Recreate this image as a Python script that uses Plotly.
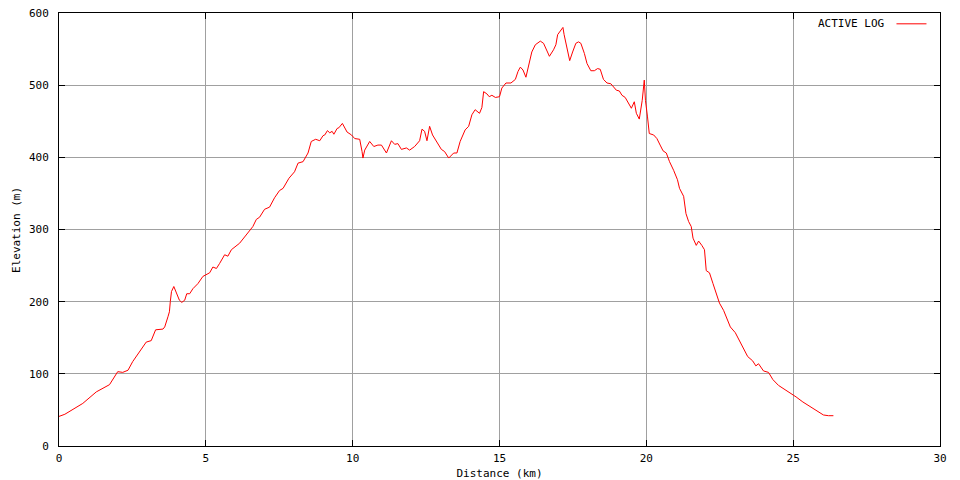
import plotly.graph_objects as go

distance_km = [0, 0.2, 0.81, 1.27, 1.72, 2.0, 2.17, 2.35, 2.51, 2.8, 2.97, 3.14, 3.29, 3.54, 3.6, 3.71,
               3.76, 3.79, 3.83, 3.91, 3.99, 4.1, 4.18, 4.28, 4.35, 4.45, 4.56, 4.73, 4.9, 5.13, 5.24,
               5.36, 5.47, 5.64, 5.75, 5.87, 6.15, 6.35, 6.49, 6.6, 6.72, 6.83, 7.0, 7.17, 7.34, 7.51,
               7.63, 7.83, 8.02, 8.14, 8.31, 8.48, 8.59, 8.74, 8.88, 8.99, 9.05, 9.14, 9.22, 9.3, 9.36,
               9.47, 9.53, 9.65, 9.81, 9.96, 10.07, 10.24, 10.32, 10.35, 10.41, 10.58, 10.72, 10.86,
               10.98, 11.15, 11.32, 11.43, 11.54, 11.66, 11.83, 11.94, 12.11, 12.28, 12.36, 12.45,
               12.53, 12.62, 12.72, 12.85, 13.02, 13.13, 13.27, 13.44, 13.55, 13.66, 13.83, 13.95,
               14.06, 14.17, 14.32, 14.4, 14.46, 14.57, 14.65, 14.74, 14.86, 15.0, 15.08, 15.22, 15.39,
               15.54, 15.63, 15.71, 15.8, 15.9, 15.99, 16.1, 16.22, 16.39, 16.5, 16.59, 16.7, 16.84,
               16.92, 16.98, 17.07, 17.16, 17.2, 17.3, 17.39, 17.49, 17.6, 17.69, 17.77, 17.89, 17.98,
               18.11, 18.23, 18.34, 18.43, 18.54, 18.66, 18.79, 18.88, 18.98, 19.08, 19.17, 19.28,
               19.37, 19.49, 19.59, 19.66, 19.76, 19.82, 19.86, 19.93, 19.97, 20.04, 20.1, 20.25,
               20.36, 20.47, 20.57, 20.68, 20.79, 20.93, 21.06, 21.13, 21.27, 21.35, 21.44, 21.53,
               21.59, 21.7, 21.78, 21.89, 21.98, 22.04, 22.15, 22.27, 22.38, 22.49, 22.63, 22.74,
               22.86, 23.03, 23.14, 23.29, 23.45, 23.62, 23.73, 23.82, 23.99, 24.16, 24.31, 24.5,
               24.7, 24.9, 25.1, 25.33, 25.56, 25.81, 26.03, 26.2, 26.37]

elevation_m = [41, 44, 59, 75, 85, 103, 102, 105, 117, 135, 144, 146, 161, 162, 165, 179,
               186, 200, 214, 221, 214, 202, 199, 202, 211, 211, 218, 225, 235, 240, 248,
               246, 253, 265, 263, 272, 281, 291, 297, 304, 314, 317, 328, 331, 344, 354,
               357, 371, 380, 392, 394, 406, 422, 425, 423, 430, 431, 437, 434, 436, 432,
               440, 441, 447, 435, 431, 426, 425, 408, 399, 410, 422, 415, 417,
               417, 406, 423, 418, 419, 411, 413, 410, 415, 423, 439, 436,
               423, 443, 431, 423, 411, 408, 399, 406, 406, 422, 438, 443,
               459, 466, 461, 469, 491, 488, 484, 486, 483, 484, 496, 503, 503,
               508, 519, 525, 521, 511, 526, 546, 556, 561, 558, 550, 540, 549,
               556, 570, 576, 580, 570, 549, 534, 546, 558, 560, 558, 544, 530,
               520, 520, 523, 522, 508, 503, 502, 498, 493, 492, 486, 483,
               477, 468, 477, 461, 453, 468, 479, 507, 479, 456, 433, 431,
               426, 417, 409, 406, 394, 382, 369, 357, 346, 322, 311, 304,
               288, 278, 284, 278, 272, 243, 240, 225, 212, 198, 188, 177,
               165, 157, 148, 135, 124, 118, 111, 114, 104, 102, 92, 84,
               79, 74, 68, 61, 55, 49, 43, 42, 42]

x_ticks = [0, 5, 10, 15, 20, 25, 30]
y_ticks = [0, 100, 200, 300, 400, 500, 600]
series_name = "ACTIVE LOG"
x_title = "Distance (km)"
y_title = "Elevation (m)"

FONT = "DejaVu Sans Mono"

fig = go.Figure()
fig.add_trace(go.Scatter(
    x=distance_km, y=elevation_m, mode="lines", name="",
    line=dict(color="#ff0000", width=1),
    showlegend=True,
))

axis_common = dict(
    showline=True, linecolor="black", linewidth=1, mirror="ticks",
    ticks="inside", ticklen=6, tickcolor="black", tickwidth=1,
    showgrid=True, gridcolor="#a0a0a0", gridwidth=1,
    zeroline=False, automargin=False, ticklabeloverflow="allow",
    tickfont=dict(family=FONT, size=11, color="black"),
)

fig.update_xaxes(
    range=[0, 30], tickvals=x_ticks, ticktext=[str(v) for v in x_ticks],
    title=dict(text=x_title, font=dict(family=FONT, size=11, color="black"), standoff=6),
    ticklabelstandoff=2,
    **axis_common,
)
fig.update_yaxes(
    range=[0, 600], tickvals=y_ticks, ticktext=[str(v) for v in y_ticks],
    ticklabelstandoff=7,
    **axis_common,
)

# y-axis title as a rotated annotation, kept fully inside the figure's left edge
fig.add_annotation(
    text=y_title, xref="paper", yref="paper", x=-0.0579, y=0.5,
    xanchor="left", yanchor="middle", textangle=-90, showarrow=False,
    font=dict(family=FONT, size=11, color="black"),
)

# legend label placed to the left of the legend line sample (gnuplot style)
fig.add_annotation(
    text=series_name, xref="paper", yref="paper", x=0.9385, y=0.975,
    xanchor="right", yanchor="middle", showarrow=False,
    font=dict(family=FONT, size=11, color="black"),
)

# the page body adds an 8px offset, so the figure is sized/margined to land on the reference pixels
fig.update_layout(
    width=952, height=472,
    margin=dict(l=51, r=20, t=5, b=34, pad=0, autoexpand=False),
    paper_bgcolor="white", plot_bgcolor="white",
    font=dict(family=FONT, size=11, color="black"),
    legend=dict(
        x=0.996, y=0.975, xanchor="right", yanchor="middle",
        bgcolor="rgba(0,0,0,0)", borderwidth=0,
        font=dict(family=FONT, size=2),
        itemwidth=30,
    ),
)

fig.write_html("out.html")
